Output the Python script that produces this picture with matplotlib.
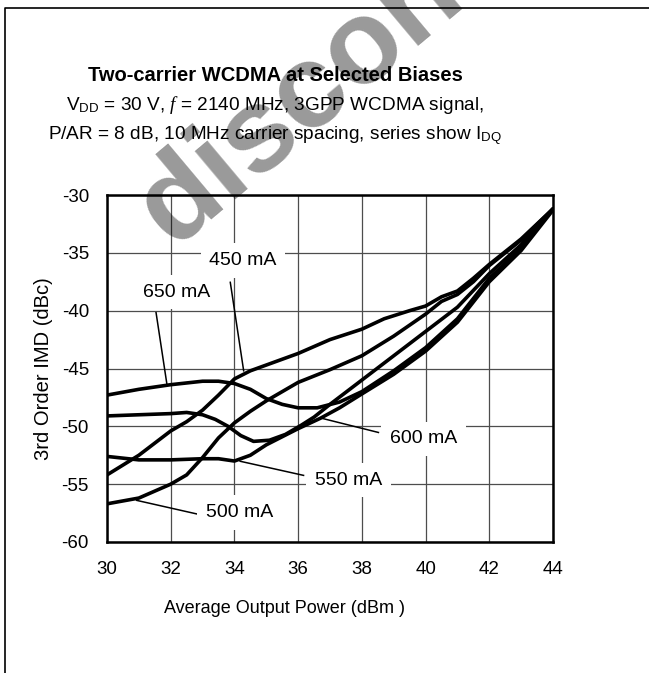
import numpy as np
import matplotlib.pyplot as plt
from matplotlib.lines import Line2D

plt.rcParams['font.family'] = ['Liberation Sans', 'DejaVu Sans']
plt.rcParams['mathtext.fontset'] = 'custom'
plt.rcParams['mathtext.rm'] = 'Liberation Sans'
plt.rcParams['mathtext.it'] = 'Liberation Serif:italic'
plt.rcParams['axes.unicode_minus'] = False

# output power (dBm) / 3rd order IMD (dBc), one pair per quiescent current
p_450 = [30, 31, 32, 32.5, 33, 33.5, 34, 34.5, 35, 36, 37, 38, 38.7, 39.5, 40, 40.5, 41, 41.5, 42, 43, 44]
imd_450 = [-54.2, -52.5, -50.4, -49.6, -48.6, -47.3, -45.9, -45.2, -44.7, -43.7, -42.5, -41.6, -40.7, -40.0,
           -39.6, -38.8, -38.3, -37.2, -36.0, -33.8, -31.2]

p_500 = [30, 31, 32, 32.5, 33, 33.5, 34, 34.5, 35, 35.5, 36, 37, 38, 39, 40, 40.5, 41, 41.5, 42, 43, 44]
imd_500 = [-56.7, -56.2, -55.0, -54.2, -52.7, -51.0, -49.7, -48.7, -47.8, -47.0, -46.2, -45.1, -43.9, -42.2,
           -40.3, -39.2, -38.6, -37.5, -36.1, -33.9, -31.2]

p_550 = [30, 31, 32, 33, 33.5, 34, 34.5, 35, 35.5, 36, 36.7, 37.3, 38, 39, 40, 41, 42, 43, 44]
imd_550 = [-52.6, -52.9, -52.9, -52.8, -52.8, -53.0, -52.5, -51.6, -50.9, -50.2, -49.3, -48.4, -47.2, -45.5,
           -43.5, -41.0, -37.5, -34.8, -31.3]

p_600 = [30, 31, 32, 32.5, 33, 33.4, 33.8, 34.2, 34.6, 35.1, 35.6, 36.1, 36.5, 37, 38, 39, 40, 41, 42, 43, 44]
imd_600 = [-49.1, -49.0, -48.9, -48.8, -49.0, -49.4, -50.0, -50.8, -51.3, -51.2, -50.7, -49.9, -49.2, -48.1,
           -46.0, -43.9, -41.8, -39.7, -36.8, -34.3, -31.2]

p_650 = [30, 31, 32, 33, 33.5, 34, 34.5, 35, 35.5, 36, 36.6, 37.3, 38, 39, 40, 41, 42, 43, 44]
imd_650 = [-47.3, -46.8, -46.4, -46.1, -46.1, -46.3, -46.8, -47.6, -48.1, -48.4, -48.4, -47.9, -47.0, -45.2,
           -43.2, -40.7, -37.2, -34.6, -31.2]

labels = ["450 mA", "500 mA", "550 mA", "600 mA", "650 mA"]
# label text centre, then leader line start -> end
label_xy = [(34.27, -35.66), (34.17, -57.44), (37.57, -54.65), (39.93, -51.08), (32.2, -38.4)]
leader_from = [(33.87, -37.55), (32.86, -57.6), (36.17, -54.24), (38.52, -50.53), (31.54, -40.17)]
leader_to = [(34.29, -45.2), (30.93, -56.4), (34.18, -53.02), (36.75, -49.31), (31.88, -46.35)]

x_ticks = [30, 32, 34, 36, 38, 40, 42, 44]
y_ticks = [-30, -35, -40, -45, -50, -55, -60]

fig = plt.figure(figsize=(6.49, 6.73), dpi=100)
ax = fig.add_axes([107 / 649, 1 - 542 / 673, 446 / 649, 347 / 673])

for p, v in [(p_450, imd_450), (p_500, imd_500), (p_550, imd_550), (p_600, imd_600), (p_650, imd_650)]:
    ax.plot(p, v, color='black', lw=2.6, solid_capstyle='round', solid_joinstyle='round', zorder=3)

for i in range(len(labels)):
    ax.plot([leader_from[i][0], leader_to[i][0]], [leader_from[i][1], leader_to[i][1]],
            color='black', lw=1.1, zorder=2.5)
    ax.text(label_xy[i][0], label_xy[i][1], labels[i], fontsize=14, ha='center', va='center', zorder=4,
            bbox=dict(boxstyle='square,pad=0.45', fc='white', ec='none'))

ax.set_xlim(30, 44)
ax.set_ylim(-60, -30)
ax.set_xticks(x_ticks)
ax.set_yticks(y_ticks)
ax.grid(True, color='#4d4d4d', lw=0.9, zorder=1)
ax.set_axisbelow(True)
ax.tick_params(length=0, labelsize=13.5)
ax.tick_params(axis='x', pad=14)
ax.tick_params(axis='y', pad=13)
for s in ax.spines.values():
    s.set_linewidth(1.8)

ax.set_xlabel("Average Output Power (dBm )", fontsize=13)
ax.xaxis.set_label_coords((284 - 107) / 446, -(600 - 542) / 347)
ax.set_ylabel("3rd Order IMD (dBc)", fontsize=14.5)
ax.yaxis.set_label_coords(-0.12, 0.5)

cx = 275 / 649
fig.text(cx, 1 - 81 / 673, "Two-carrier WCDMA at Selected Biases", fontsize=14.5, fontweight='bold',
         ha='center', va='baseline')
fig.text(cx, 1 - 110 / 673, r"V$_{\mathrm{DD}}$ = 30 V, $f$ = 2140 MHz, 3GPP WCDMA signal,", fontsize=13.7,
         ha='center', va='baseline')
fig.text(cx, 1 - 139 / 673, r"P/AR = 8 dB, 10 MHz carrier spacing, series show I$_{\mathrm{DQ}}$", fontsize=13.7,
         ha='center', va='baseline')

# page frame
fig.add_artist(Line2D([5 / 649, 5 / 649, 1], [0, 1 - 8 / 673, 1 - 8 / 673], color='black', lw=1.2))

# watermark stamp
fig.text(172 / 649, 1 - 248 / 673, "discontinued", fontsize=86, fontweight='bold', color='black', alpha=0.4,
         rotation=40, rotation_mode='anchor', ha='left', va='baseline', zorder=10)

fig.savefig('out.png', dpi=100)
